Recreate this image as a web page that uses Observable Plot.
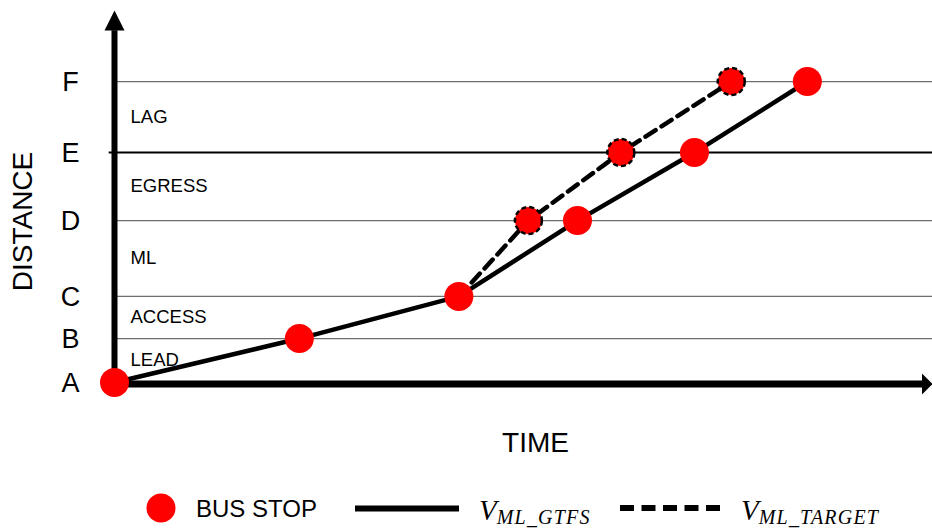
<!DOCTYPE html>
<html>
<head>
<meta charset="utf-8">
<script src="https://cdn.jsdelivr.net/npm/d3@7"></script>
<script src="https://cdn.jsdelivr.net/npm/@observablehq/plot@0.6"></script>
<style>
  body { margin: 0; background: #fff; }
  #chart { width: 932px; }
  svg { display: block; }
</style>
</head>
<body>
<div id="chart"></div>
<script>
// ---- data ----
const stopLabels = ["A", "B", "C", "D", "E", "F"];
const stopDistance = [0, 1.46, 2.86, 5.38, 7.64, 10.0];
const gtfsTime = [0, 2.26, 4.21, 5.66, 7.09, 8.47];
const targetStops = ["C", "D", "E", "F"];
const targetTime = [4.21, 5.06, 6.19, 7.54];
const zoneLabels = ["LEAD", "ACCESS", "ML", "EGRESS", "LAG"];
const xTitle = "TIME";
const yTitle = "DISTANCE";
const legendLabels = ["BUS STOP", ["V", "ML_GTFS"], ["V", "ML_TARGET"]];

// ---- derived tables ----
const dist = Object.fromEntries(stopLabels.map((s, i) => [s, stopDistance[i]]));
const gtfs = stopLabels.map((s, i) => ({stop: s, t: gtfsTime[i], d: stopDistance[i]}));
const target = targetStops.map((s, i) => ({stop: s, t: targetTime[i], d: dist[s]}));
const zones = zoneLabels.map((z, i) => ({label: z, d: (stopDistance[i] + stopDistance[i + 1]) / 2}));
const gridStops = stopLabels.filter(s => s !== "A" && s !== "E").map(s => dist[s]);

const X_MAX = 10, Y_MAX = 12.36;

const upHead = {draw(ctx, size) { const r = Math.sqrt(size / Math.PI); ctx.moveTo(0, 0); ctx.lineTo(-r, 2 * r); ctx.lineTo(r, 2 * r); ctx.closePath(); }};
const rightHead = {draw(ctx, size) { const r = Math.sqrt(size / Math.PI); ctx.moveTo(0, 0); ctx.lineTo(-r, -r); ctx.lineTo(-r, r); ctx.closePath(); }};

const font = "'Liberation Sans', Arial, sans-serif";

const plot = Plot.plot({
  width: 932,
  height: 470,
  marginLeft: 114,
  marginRight: 0,
  marginTop: 10,
  marginBottom: 88,
  style: {fontFamily: font, background: "#fff"},
  x: {domain: [0, X_MAX], axis: null},
  y: {domain: [0, Y_MAX], axis: null},
  marks: [
    Plot.ruleY(gridStops, {x1: 0, x2: X_MAX, stroke: "#6e6e6e", strokeWidth: 1.3}),
    Plot.ruleY([dist["E"]], {x1: -0.065, x2: X_MAX, stroke: "#000", strokeWidth: 2}),
    Plot.ruleX([0], {y1: 0, y2: Y_MAX - 0.67, stroke: "#000", strokeWidth: 6}),
    Plot.ruleY([0], {x1: 0, x2: X_MAX - 0.12, stroke: "#000", strokeWidth: 7, dy: 1.5}),
    Plot.dot([{x: 0, y: Y_MAX}], {x: "x", y: "y", symbol: upHead, r: 10, fill: "#000", stroke: "none"}),
    Plot.dot([{x: X_MAX, y: 0}], {x: "x", y: "y", symbol: rightHead, r: 10.5, fill: "#000", stroke: "none", dy: 1.5}),
    Plot.line(gtfs, {x: "t", y: "d", stroke: "#000", strokeWidth: 4.5}),
    Plot.line(target, {x: "t", y: "d", stroke: "#000", strokeWidth: 4.5, strokeDasharray: "12,7"}),
    Plot.dot(gtfs, {x: "t", y: "d", r: 14.5, fill: "#ff0000", stroke: "none"}),
    Plot.dot(target.slice(1), {x: "t", y: "d", r: 13.5, fill: "#ff0000", stroke: "#000", strokeWidth: 2.5, strokeDasharray: "5,3"}),
    Plot.text(stopLabels, {y: (s) => dist[s], text: (s) => s, frameAnchor: "left", dx: -44, dy: 1, textAnchor: "middle", fontSize: 27}),
    Plot.text(zones, {y: "d", text: "label", frameAnchor: "left", dx: 16, textAnchor: "start", fontSize: 18.5}),
    Plot.text([xTitle], {frameAnchor: "bottom", dx: 12, dy: 69, textAnchor: "middle", fontSize: 28}),
    Plot.text([yTitle], {frameAnchor: "left", dx: -91, dy: 25, rotate: -90, textAnchor: "middle", fontSize: 28})
  ]
});
document.getElementById("chart").appendChild(plot);

// ---- legend below the chart ----
const leg = d3.select("#chart").append("svg").attr("width", 932).attr("height", 59)
  .style("font-family", font);
leg.append("circle").attr("cx", 161).attr("cy", 38).attr("r", 14.5).attr("fill", "#ff0000");
leg.append("text").attr("x", 196).attr("y", 47).attr("font-size", 24).text(legendLabels[0]);
leg.append("line").attr("x1", 355).attr("x2", 459).attr("y1", 38.5).attr("y2", 38.5)
  .attr("stroke", "#000").attr("stroke-width", 6);
leg.append("line").attr("x1", 620).attr("x2", 725).attr("y1", 38).attr("y2", 38)
  .attr("stroke", "#000").attr("stroke-width", 6).attr("stroke-dasharray", "14,7.5");
function mathLabel(x, parts) {
  const t = leg.append("text").attr("x", x).attr("y", 50)
    .attr("font-family", "'Liberation Serif', 'DejaVu Serif', serif").attr("font-style", "italic");
  t.append("tspan").attr("font-size", 29).text(parts[0]);
  t.append("tspan").attr("font-size", 20).attr("dy", 4).attr("letter-spacing", 1.2).text(parts[1]);
}
mathLabel(479, legendLabels[1]);
mathLabel(741, legendLabels[2]);
</script>
</body>
</html>
